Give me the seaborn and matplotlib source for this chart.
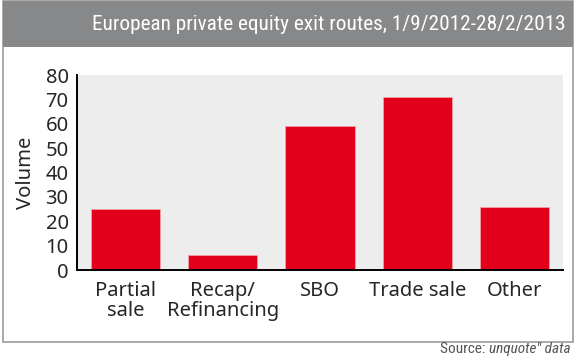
import pandas as pd
import matplotlib.pyplot as plt
import seaborn as sns
from matplotlib.patches import Rectangle

# data
routes = ['Partial\nsale', 'Recap/\nRefinancing', 'SBO', 'Trade sale', 'Other']
volume = [25, 6, 59, 71, 26]

df = pd.DataFrame({'route': routes, 'volume': volume})

sns.set_style('white')
plt.rcParams['font.family'] = ['Noto Sans', 'DejaVu Sans']
cond = ['Roboto Condensed', 'Liberation Sans Narrow', 'Roboto']

fig = plt.figure(figsize=(5.8, 3.58), dpi=100)

# outer frame and grey header band
fig.patches.append(Rectangle((3 / 580, 1 - 342 / 358), 570 / 580, 341 / 358,
                             transform=fig.transFigure, facecolor='white',
                             edgecolor='#9a9a9a', linewidth=1.2, zorder=0))
fig.patches.append(Rectangle((3 / 580, 1 - 47 / 358), 570 / 580, 46 / 358,
                             transform=fig.transFigure, facecolor='#87888a',
                             edgecolor='#87888a', linewidth=0, zorder=1))
fig.text(566 / 580, 1 - 25 / 358, 'European private equity exit routes, 1/9/2012-28/2/2013',
         ha='right', va='center', color='white', fontsize=15.3, family=cond,
         fontstretch='condensed')

ax = fig.add_axes([77 / 580, 1 - 270 / 358, 486 / 580, 195 / 358])
ax.set_zorder(3)
ax.set_facecolor('#ededed')
sns.barplot(data=df, x='route', y='volume', color='#e2001a', width=0.71,
            edgecolor='#f3a0a8', linewidth=0.6, saturation=1, ax=ax)

ax.set_xlim(-0.5, 4.5)
ax.set_ylim(0, 80)
ax.set_yticks(range(0, 81, 10))
ax.set_xlabel('')
ax.set_ylabel('Volume', fontsize=14.5, labelpad=7)

ax.tick_params(axis='x', which='major', length=0, pad=8, labelsize=14.5)
ax.tick_params(axis='y', length=0, pad=6, labelsize=14.5)
ax.set_xticks([i - 0.5 for i in range(6)], minor=True)
ax.tick_params(axis='x', which='minor', direction='in', length=4, width=1, color='black')
for lab in ax.get_xticklabels():
    lab.set_linespacing(1.0)

for side in ['top', 'right']:
    ax.spines[side].set_visible(False)
for side in ['left', 'bottom']:
    ax.spines[side].set_color('black')
    ax.spines[side].set_linewidth(1.4)

# source line, italic part on the right
r = fig.text(571 / 580, 1 - 349 / 358, 'unquote" data', ha='right', va='center',
             color='#555555', fontsize=11, style='italic', family=cond)
fig.canvas.draw()
bb = r.get_window_extent()
fig.text(bb.x0 / fig.bbox.width, 1 - 349 / 358, 'Source: ', ha='right', va='center',
         color='#555555', fontsize=11, family=cond)

plt.savefig('out.png', dpi=100)
